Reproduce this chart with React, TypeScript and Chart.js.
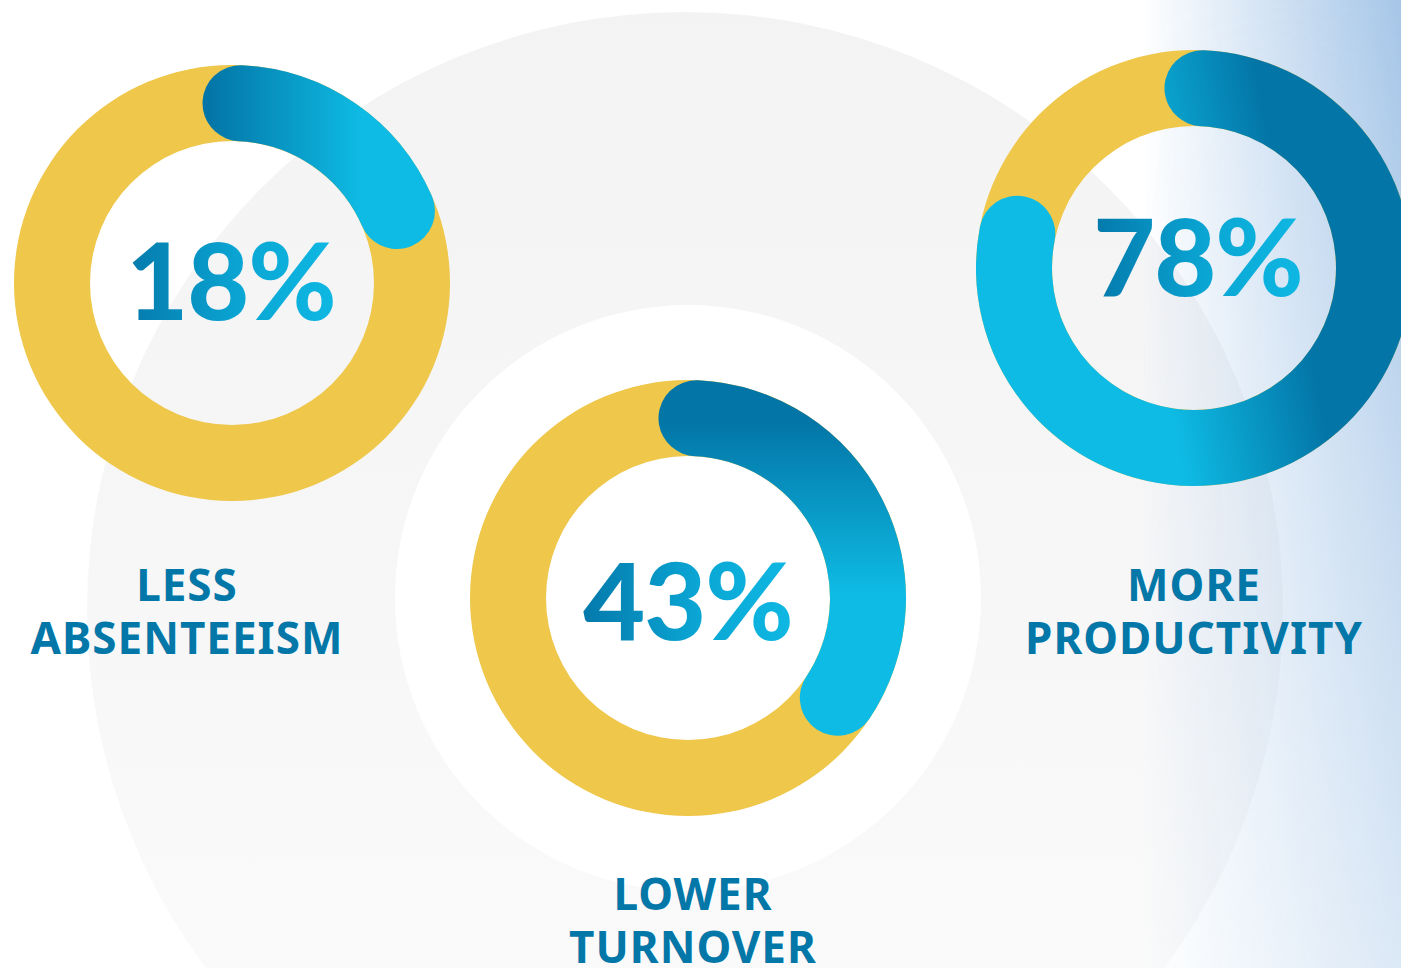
import React, { useEffect, useRef } from 'react';
import { Chart, registerables } from 'chart.js';

Chart.register(...registerables);

// ---- data ----
const categories = ['LESS ABSENTEEISM', 'LOWER TURNOVER', 'MORE PRODUCTIVITY'];
const labelLines = [
  ['LESS', 'ABSENTEEISM'],
  ['LOWER', 'TURNOVER'],
  ['MORE', 'PRODUCTIVITY'],
];
const percentLabels = ['18%', '43%', '78%'];
// sweep of the blue arc, as a share of the full ring, as drawn in the picture
const arcShares = [17.7, 33.6, 77.3];

// ---- styling / layout ----
const YELLOW = '#eec74b';
const DARK = '#0376a7';
const CYAN = '#0ebbe4';
const LABEL = '#0377a8';
const SIZE = 436; // canvas size -> outer radius 218
const INNER_R = 142;
const HALF = (SIZE / 2 - INNER_R) / 2; // 38
const MID_R = INNER_R + HALF; // 180
const START_DEG = 2.7; // arcs start slightly right of twelve o'clock

type Layout = {
  cx: number;
  cy: number;
  grad: [number, number, number, number]; // dark -> cyan, relative to centre
  pctCx: number;
  pctBase: number;
  labCx: number;
  labTop: number;
};

const layouts: Layout[] = [
  { cx: 232, cy: 283, grad: [-22, 0, 130, 0], pctCx: 231, pctBase: 320, labCx: 187, labTop: 558 },
  { cx: 688, cy: 598, grad: [0, -175, 0, -5], pctCx: 688, pctBase: 640, labCx: 693, labTop: 867 },
  { cx: 1194, cy: 268, grad: [94, -28, -50, 0], pctCx: 1198, pctBase: 296, labCx: 1194, labTop: 558 },
];

function Donut({ share, layout }: { share: number; layout: Layout }) {
  const ringRef = useRef<HTMLCanvasElement>(null);
  const arcRef = useRef<HTMLCanvasElement>(null);

  useEffect(() => {
    const common: any = {
      responsive: false,
      maintainAspectRatio: false,
      animation: false,
      events: [],
      cutout: INNER_R,
      layout: { padding: 0 },
      plugins: { legend: { display: false }, tooltip: { enabled: false } },
    };
    const ring = new Chart(ringRef.current!, {
      type: 'doughnut',
      data: {
        labels: ['ring'],
        datasets: [{ data: [100], backgroundColor: YELLOW, borderWidth: 0 }],
      },
      options: common,
    });

    const capDeg = ((HALF / MID_R) * 180) / Math.PI;
    const capPct = capDeg / 3.6;
    const g = layout.grad;
    const arc = new Chart(arcRef.current!, {
      type: 'doughnut',
      data: {
        labels: ['value', 'rest'],
        datasets: [
          {
            data: [share + 2 * capPct, 100 - share - 2 * capPct],
            backgroundColor: (c: any) => {
              if (c.dataIndex !== 0) return 'rgba(0,0,0,0)';
              const chart = c.chart;
              const a = chart.chartArea;
              if (!a) return DARK;
              const mx = (a.left + a.right) / 2;
              const my = (a.top + a.bottom) / 2;
              const grd = chart.ctx.createLinearGradient(mx + g[0], my + g[1], mx + g[2], my + g[3]);
              grd.addColorStop(0, DARK);
              grd.addColorStop(1, CYAN);
              return grd;
            },
            borderWidth: 0,
            borderRadius: (c: any) => (c.dataIndex === 0 ? HALF : 0),
          } as any,
        ],
      },
      options: { ...common, rotation: START_DEG - capDeg },
    });
    return () => {
      ring.destroy();
      arc.destroy();
    };
  }, [share, layout]);

  const pos: React.CSSProperties = {
    position: 'absolute',
    left: layout.cx - SIZE / 2,
    top: layout.cy - SIZE / 2,
    width: SIZE,
    height: SIZE,
  };
  return (
    <>
      <canvas ref={ringRef} width={SIZE} height={SIZE} style={pos} />
      <canvas ref={arcRef} width={SIZE} height={SIZE} style={pos} />
    </>
  );
}

const PCT_SIZE = 107;

export default function App() {
  return (
    <div
      style={{
        position: 'fixed',
        left: 0,
        top: 0,
        width: 1401,
        height: 968,
        overflow: 'hidden',
        background: '#ffffff',
      }}
    >
      {/* large pale circle */}
      <div
        style={{
          position: 'absolute',
          left: 685 - 598,
          top: 610 - 598,
          width: 1196,
          height: 1196,
          borderRadius: '50%',
          background: 'linear-gradient(to bottom, #f3f3f4 0%, #f7f7f8 50%, #fafafa 80%)',
        }}
      />
      {/* white circle behind middle donut */}
      <div
        style={{
          position: 'absolute',
          left: 688 - 293,
          top: 598 - 293,
          width: 586,
          height: 586,
          borderRadius: '50%',
          background: '#ffffff',
        }}
      />
      {/* blue tint on the right */}
      <div
        style={{
          position: 'absolute',
          left: 1140,
          top: 0,
          width: 261,
          height: 968,
          background: 'linear-gradient(90deg, rgba(166,198,232,0) 0%, rgba(166,198,232,0.55) 55%, rgba(166,198,232,1) 100%)',
          WebkitMaskImage: 'linear-gradient(to bottom, #000 0%, rgba(0,0,0,0.65) 50%, rgba(0,0,0,0.4) 100%)',
          maskImage: 'linear-gradient(to bottom, #000 0%, rgba(0,0,0,0.65) 50%, rgba(0,0,0,0.4) 100%)',
        }}
      />

      {arcShares.map((s, i) => (
        <Donut key={categories[i]} share={s} layout={layouts[i]} />
      ))}

      {percentLabels.map((p, i) => {
        const L = layouts[i];
        return (
          <div
            key={p}
            style={{
              position: 'absolute',
              left: L.pctCx - 200,
              width: 400,
              top: L.pctBase - Math.round(PCT_SIZE * 0.887),
              textAlign: 'center',
              lineHeight: `${PCT_SIZE}px`,
              height: PCT_SIZE,
            }}
          >
            <span
              style={{
                display: 'inline-block',
                fontFamily: 'Lato, sans-serif',
                fontWeight: 900,
                fontSize: PCT_SIZE,
                letterSpacing: -1,
                background: `linear-gradient(90deg, #0479ab 0%, #0aa6d4 55%, #0eb8e2 100%)`,
                WebkitBackgroundClip: 'text',
                backgroundClip: 'text',
                color: 'transparent',
                WebkitTextFillColor: 'transparent',
              }}
            >
              {p}
            </span>
          </div>
        );
      })}

      {labelLines.map((lines, i) => {
        const L = layouts[i];
        return (
          <div
            key={categories[i]}
            style={{
              position: 'absolute',
              left: L.labCx - 250,
              width: 500,
              top: L.labTop,
              textAlign: 'center',
              fontFamily: '"Noto Sans", sans-serif',
              fontWeight: 700,
              fontSize: 44,
              lineHeight: '53px',
              letterSpacing: 1,
              color: LABEL,
            }}
          >
            {lines.map((t) => (
              <div key={t}>{t}</div>
            ))}
          </div>
        );
      })}
    </div>
  );
}
